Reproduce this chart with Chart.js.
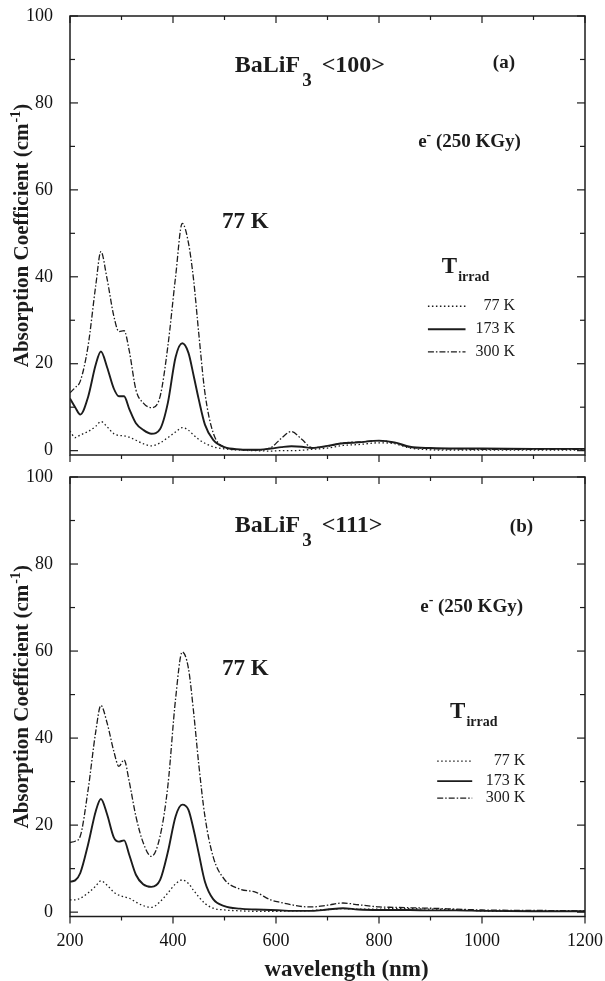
<!DOCTYPE html>
<html>
<head>
<meta charset="utf-8">
<script src="https://cdn.jsdelivr.net/npm/chart.js@4.4.1/dist/chart.umd.min.js"></script>
<style>
  body { margin: 0; background: #fff; }
  .wrap { position: relative; width: 605px; height: 981px; }
  canvas { position: absolute; left: 0; }
  #chartA { top: 0; }
  #chartB { top: 460px; }
</style>
</head>
<body>
<div class="wrap">
  <canvas id="chartA" width="605" height="470"></canvas>
  <canvas id="chartB" width="605" height="521"></canvas>
</div>
<script>
// wavelength grid (nm), shared by every curve
const wavelength = [200, 210, 220, 235, 250, 260, 272, 285, 295, 305, 315, 328, 342, 358, 375,
  390, 405, 418, 430, 440, 450, 462, 478, 500, 530, 560, 590, 610, 630, 650, 670, 700, 730,
  760, 800, 830, 860, 900, 950, 1000, 1100, 1200];

// (a) BaLiF3 <100>
const a77 = [4.5, 3.0, 3.6, 4.4, 5.6, 6.7, 5.5, 3.9, 3.5, 3.4, 3.1, 2.4, 1.6, 1.1, 1.8,
  3.0, 4.3, 5.3, 4.7, 3.6, 2.6, 1.7, 0.9, 0.4, 0.1, 0.0, -0.1, 0.0, 0.0, 0.1, 0.3, 0.6, 1.2,
  1.4, 1.8, 1.6, 0.6, 0.2, 0.1, 0.1, 0.1, 0.1];
const a173 = [12, 10, 8.3, 12.3, 19.8, 22.8, 19.2, 14.3, 12.5, 12.5, 9.6, 6.3, 4.8, 3.9, 5.0,
  11, 21.5, 24.7, 22.5, 17.3, 11.8, 6, 2.5, 0.8, 0.3, 0.2, 0.5, 0.8, 1.0, 0.9, 0.6, 1.1, 1.7,
  1.9, 2.3, 1.9, 0.9, 0.6, 0.5, 0.5, 0.4, 0.4];
const a300 = [13.3, 14.5, 16, 24, 38, 45.8, 39.5, 31, 27.4, 27.6, 23, 14, 11, 9.9, 12.5,
  24, 40, 52.3, 47.8, 39.3, 27, 13.3, 4.1, 0.8, 0.2, 0.1, 0.7, 2.8, 4.4, 2.6, 0.7, 1.0, 1.8,
  2.0, 2.3, 1.8, 0.8, 0.5, 0.4, 0.3, 0.3, 0.3];

// (b) BaLiF3 <111>
const b77 = [2.8, 2.8, 3.2, 4.4, 6.0, 7.2, 6.2, 4.6, 3.9, 3.5, 3.2, 2.3, 1.5, 1.1, 2.4,
  4.4, 6.5, 7.4, 6.6, 5.0, 3.5, 2.0, 0.9, 0.5, 0.3, 0.2, 0.2, 0.2, 0.3, 0.3, 0.4, 0.6, 0.8,
  0.7, 0.7, 0.8, 0.8, 0.7, 0.6, 0.3, 0.2, 0.2];
const b173 = [7.0, 7.3, 9, 15.5, 23.2, 26, 22.5, 17.2, 16.2, 16.5, 13.2, 8.6, 6.4, 5.8, 7.4,
  13.8, 22, 24.7, 23.5, 19, 13.5, 7, 3, 1.4, 0.8, 0.6, 0.5, 0.4, 0.3, 0.3, 0.3, 0.6, 0.9,
  0.6, 0.5, 0.5, 0.5, 0.4, 0.4, 0.3, 0.2, 0.2];
const b300 = [16, 16.3, 17.5, 28, 41.5, 47.5, 43.5, 37, 33.5, 35, 30, 22, 16, 12.8, 17.5,
  29, 49, 59.8, 56, 46, 34, 22, 12.7, 7.5, 5.3, 4.6, 2.8, 2.2, 1.7, 1.3, 1.2, 1.6, 2.1,
  1.7, 1.2, 1.1, 1.0, 0.9, 0.7, 0.5, 0.4, 0.3];

const seriesNames = ['77 K', '173 K', '300 K'];
const xTicks = [200, 400, 600, 800, 1000, 1200];
const xMinor = [300, 500, 700, 900, 1100];
const yTicks = [0, 20, 40, 60, 80, 100];
const yMinor = [10, 30, 50, 70, 90];

const FONT = "'Liberation Serif', 'Times New Roman', serif";
const INK = '#1c1c1c';

const lineStyles = [
  { width: 1.3, dash: [1.5, 2.5] },
  { width: 1.9, dash: [] },
  { width: 1.3, dash: [6, 2, 1.5, 2] }
];

// annotation anchors, in data units (nm, cm-1)
const panelA = {
  crystal: '<100>', tag: '(a)',
  title: [520, 87.1], tagAt: [1021, 88], dose: [876, 69.8], temp: [495, 51.2],
  tirrad: [922, 40.9], rows: [32.3, 27, 21.8], lineFrom: 895, lineTo: 968, textRight: 1064
};
const panelB = {
  crystal: '<111>', tag: '(b)',
  title: [520, 87.3], tagAt: [1054, 87.3], dose: [880, 69], temp: [495, 54.5],
  tirrad: [938, 44.6], rows: [33.8, 29.2, 25.3], lineFrom: 913, lineTo: 981, textRight: 1084,
  xTitleAt: 737
};

function makeDatasets(values) {
  return values.map((arr, i) => ({
    label: seriesNames[i],
    data: arr.map((v, j) => ({ x: wavelength[j], y: v })),
    borderColor: INK,
    borderWidth: lineStyles[i].width,
    borderDash: lineStyles[i].dash,
    pointRadius: 0,
    fill: false,
    cubicInterpolationMode: 'monotone'
  }));
}

function drawRich(ctx, x, y, parts) {
  let cx = x;
  parts.forEach(p => {
    ctx.font = p.font;
    cx += p.dx || 0;
    ctx.fillText(p.text, cx, y + (p.dy || 0));
    cx += ctx.measureText(p.text).width;
  });
  return cx - x;
}

function richWidth(ctx, parts) {
  let w = 0;
  parts.forEach(p => { ctx.font = p.font; w += (p.dx || 0) + ctx.measureText(p.text).width; });
  return w;
}

// box frame with inward ticks on top/left/right, outward on bottom
const framePlugin = {
  id: 'frame',
  afterDraw(chart) {
    const { ctx, chartArea: a, scales: { x, y } } = chart;
    ctx.save();
    ctx.strokeStyle = INK;
    ctx.lineWidth = 1.5;
    ctx.strokeRect(a.left, a.top, a.right - a.left, a.bottom - a.top);
    ctx.lineWidth = 1.2;
    const tick = (x1, y1, x2, y2) => { ctx.beginPath(); ctx.moveTo(x1, y1); ctx.lineTo(x2, y2); ctx.stroke(); };
    [[xTicks, 7], [xMinor, 4]].forEach(([vals, len]) => vals.forEach(v => {
      const px = x.getPixelForValue(v);
      tick(px, a.top, px, a.top + len);
      tick(px, a.bottom, px, a.bottom + len);
    }));
    [[yTicks, 8], [yMinor, 5]].forEach(([vals, len]) => vals.forEach(v => {
      const py = y.getPixelForValue(v);
      tick(a.left, py, a.left + len, py);
      tick(a.right, py, a.right - len, py);
    }));
    ctx.restore();
  }
};

function notesPlugin(panel) {
  return {
    id: 'notes',
    afterDraw(chart) {
      const { ctx, chartArea: a, scales: { x, y } } = chart;
      const px = v => x.getPixelForValue(v);
      const py = v => y.getPixelForValue(v);
      ctx.save();
      ctx.fillStyle = INK;
      ctx.textBaseline = 'alphabetic';
      ctx.textAlign = 'left';

      drawRich(ctx, px(panel.title[0]), py(panel.title[1]), [
        { text: 'BaLiF', font: 'bold 24px ' + FONT },
        { text: '3', font: 'bold 19px ' + FONT, dy: 14, dx: 2 },
        { text: '<' + panel.crystal.slice(1), font: 'bold 24px ' + FONT, dx: 10 }
      ]);
      drawRich(ctx, px(panel.tagAt[0]), py(panel.tagAt[1]), [{ text: panel.tag, font: 'bold 19px ' + FONT }]);
      drawRich(ctx, px(panel.dose[0]), py(panel.dose[1]), [
        { text: 'e', font: 'bold 19px ' + FONT },
        { text: '-', font: 'bold 14px ' + FONT, dy: -8 },
        { text: ' (250 KGy)', font: 'bold 19px ' + FONT }
      ]);
      drawRich(ctx, px(panel.temp[0]), py(panel.temp[1]), [{ text: '77 K', font: 'bold 23px ' + FONT }]);
      drawRich(ctx, px(panel.tirrad[0]), py(panel.tirrad[1]), [
        { text: 'T', font: 'bold 23px ' + FONT },
        { text: 'irrad', font: 'bold 14px ' + FONT, dy: 8, dx: 1 }
      ]);

      // legend rows
      panel.rows.forEach((rv, i) => {
        const by = py(rv);
        ctx.save();
        ctx.strokeStyle = INK;
        ctx.lineWidth = lineStyles[i].width;
        ctx.setLineDash(lineStyles[i].dash);
        ctx.beginPath();
        ctx.moveTo(px(panel.lineFrom), by - 4);
        ctx.lineTo(px(panel.lineTo), by - 4);
        ctx.stroke();
        ctx.restore();
        ctx.font = '16px ' + FONT;
        ctx.textAlign = 'right';
        ctx.fillText(seriesNames[i], px(panel.textRight), by);
        ctx.textAlign = 'left';
      });

      // y axis title
      const yParts = [
        { text: 'Absorption Coefficient (cm', font: 'bold 21px ' + FONT },
        { text: '-1', font: 'bold 14px ' + FONT, dy: -8, dx: 1 },
        { text: ')', font: 'bold 21px ' + FONT }
      ];
      ctx.save();
      ctx.translate(28, (a.top + a.bottom) / 2);
      ctx.rotate(-Math.PI / 2);
      drawRich(ctx, -richWidth(ctx, yParts) / 2, 0, yParts);
      ctx.restore();

      // x axis title (bottom panel only)
      if (panel.xTitleAt) {
        ctx.font = 'bold 23px ' + FONT;
        ctx.textAlign = 'center';
        ctx.fillText('wavelength (nm)', px(panel.xTitleAt), x.bottom - 5);
      }
      ctx.restore();
    }
  };
}

function makeChart(id, values, panel, showXLabels, fit) {
  return new Chart(document.getElementById(id), {
    type: 'line',
    data: { datasets: makeDatasets(values) },
    options: {
      responsive: false,
      animation: false,
      layout: { padding: { top: fit.padTop, right: fit.padRight, left: 0, bottom: 0 } },
      plugins: { legend: { display: false }, tooltip: { enabled: false } },
      scales: {
        x: {
          type: 'linear', min: 200, max: 1200,
          grid: { display: false }, border: { display: false },
          afterBuildTicks: s => { s.ticks = xTicks.map(v => ({ value: v })); },
          afterFit: s => { s.height = fit.xHeight; s.paddingLeft = 0; s.paddingRight = 0; },
          ticks: {
            display: showXLabels, autoSkip: false, maxRotation: 0, padding: 6,
            color: '#111', font: { family: FONT, size: 18 },
            callback: v => String(v)
          }
        },
        y: {
          min: -1, max: 100,
          grid: { display: false }, border: { display: false },
          afterBuildTicks: s => { s.ticks = yTicks.map(v => ({ value: v })); },
          afterFit: s => { s.width = fit.yWidth; s.paddingTop = 0; s.paddingBottom = 0; },
          ticks: { padding: 9, color: '#111', font: { family: FONT, size: 18 }, callback: v => String(v) }
        }
      }
    },
    plugins: [framePlugin, notesPlugin(panel)]
  });
}

// nudge the layout so the plot box lands where the reference has it
function placeArea(chart, fit, target) {
  for (let k = 0; k < 3; k++) {
    const a = chart.chartArea;
    fit.padTop += target.top - a.top;
    fit.xHeight += a.bottom - target.bottom;
    fit.yWidth += target.left - a.left;
    fit.padRight += a.right - target.right;
    chart.options.layout.padding = { top: fit.padTop, right: fit.padRight, left: 0, bottom: 0 };
    chart.update('none');
  }
}

const fitA = { padTop: 16, padRight: 20, xHeight: 15, yWidth: 70 };
const fitB = { padTop: 17, padRight: 20, xHeight: 64, yWidth: 70 };
const chartA = makeChart('chartA', [a77, a173, a300], panelA, false, fitA);
const chartB = makeChart('chartB', [b77, b173, b300], panelB, true, fitB);
placeArea(chartA, fitA, { left: 70, top: 16, right: 585, bottom: 455 });
placeArea(chartB, fitB, { left: 70, top: 17, right: 585, bottom: 456.5 });
</script>
</body>
</html>
